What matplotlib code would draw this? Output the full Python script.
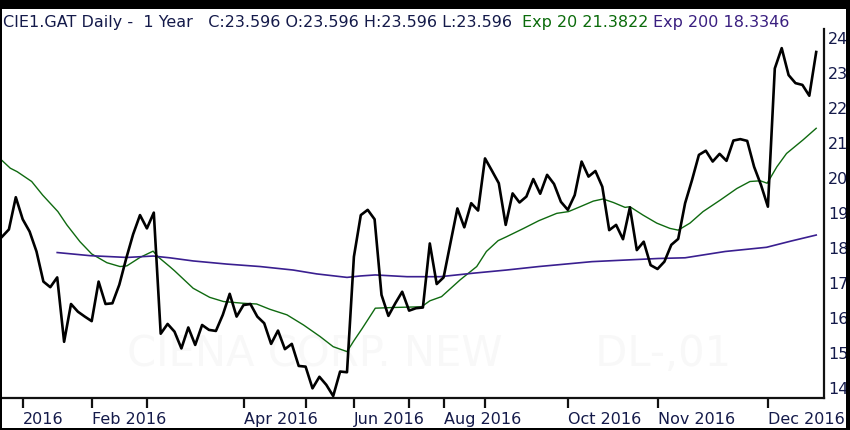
import matplotlib
matplotlib.use('Agg')
import matplotlib.pyplot as plt
from matplotlib.patches import Rectangle

# closing prices, one per bar
close = [18.32, 18.53, 19.45, 18.82, 18.47, 17.90, 17.04, 16.88, 17.16, 15.32,
         16.40, 16.18, 16.04, 15.91, 17.04, 16.40, 16.42, 16.95, 17.70, 18.39,
         18.94, 18.56, 19.01, 15.55, 15.83, 15.61, 15.13, 15.73, 15.23, 15.80,
         15.66, 15.63, 16.09, 16.69, 16.04, 16.37, 16.40, 16.04, 15.85, 15.26,
         15.64, 15.11, 15.26, 14.63, 14.61, 13.99, 14.32, 14.09, 13.77, 14.47,
         14.45, 17.75, 18.94, 19.09, 18.82, 16.66, 16.06, 16.42, 16.75, 16.21,
         16.28, 16.30, 18.13, 16.97, 17.16, 18.15, 19.13, 18.59, 19.28, 19.07,
         20.56, 20.21, 19.85, 18.66, 19.56, 19.30, 19.47, 19.97, 19.55, 20.09,
         19.83, 19.32, 19.09, 19.51, 20.47, 20.04, 20.20, 19.75, 18.51, 18.66,
         18.25, 19.16, 17.94, 18.18, 17.51, 17.40, 17.61, 18.09, 18.26, 19.28,
         19.94, 20.66, 20.78, 20.47, 20.69, 20.49, 21.07, 21.11, 21.06, 20.32,
         19.80, 19.18, 23.13, 23.71, 22.94, 22.71, 22.66, 22.35, 23.60]

# Exp 20 average, read at a few bar positions
exp20_pos = [0, 1.2, 2.2, 4.3, 5.9, 8.1, 9.4, 11.3, 13.0, 15.2, 17.1, 18.1, 20.0,
             21.9, 22.6, 24.3, 25.0, 27.7, 30.1, 32.1, 35.0, 36.9, 38.8, 41.3,
             43.7, 46.1, 48.0, 50.0, 51.0, 52.2, 54.1, 56.7, 60.8, 62.0, 63.7,
             66.4, 68.8, 70.2, 71.9, 73.1, 75.6, 77.8, 80.4, 82.1, 83.8, 85.7,
             87.1, 88.6, 90.3, 91.0, 92.9, 94.9, 96.8, 98.0, 99.7, 101.6, 104.1,
             106.5, 108.4, 109.9, 110.9, 112.3, 113.7, 116.1, 118.0]
exp20_val = [20.50, 20.28, 20.18, 19.90, 19.51, 19.04, 18.66, 18.18, 17.83, 17.58,
             17.47, 17.49, 17.73, 17.91, 17.75, 17.47, 17.35, 16.85, 16.59, 16.47,
             16.42, 16.40, 16.25, 16.09, 15.80, 15.47, 15.18, 15.04, 15.35, 15.70,
             16.28, 16.30, 16.32, 16.49, 16.61, 17.09, 17.47, 17.90, 18.21, 18.32,
             18.56, 18.78, 18.99, 19.04, 19.18, 19.34, 19.40, 19.30, 19.16, 19.18,
             18.94, 18.71, 18.56, 18.51, 18.71, 19.04, 19.37, 19.70, 19.90, 19.92,
             19.85, 20.32, 20.70, 21.09, 21.42]

# Exp 200 average
exp200_pos = [8.0, 12.8, 18.1, 21.9, 24.3, 27.7, 32.6, 37.4, 42.2, 45.6, 50.0,
              51.9, 54.1, 58.7, 63.5, 68.3, 73.1, 77.8, 85.5, 95.1, 99.0, 104.8,
              110.8, 114.4, 118.0]
exp200_val = [17.87, 17.78, 17.73, 17.77, 17.72, 17.63, 17.54, 17.47, 17.37, 17.26,
              17.16, 17.20, 17.23, 17.18, 17.18, 17.28, 17.37, 17.47, 17.61, 17.70,
              17.72, 17.90, 18.02, 18.20, 18.37]

tick_pos = [3, 13, 21, 35, 44, 51, 59, 64, 70, 82, 95, 111]
tick_lbl = ['2016', 'Feb 2016', '', 'Apr 2016', '', 'Jun 2016', '', 'Aug 2016', '',
            'Oct 2016', 'Nov 2016', 'Dec 2016']
y_ticks = [14, 15, 16, 17, 18, 19, 20, 21, 22, 23, 24]

navy = '#141a4a'
green = '#0b6b0b'
purple = '#3a1f80'

W, H = 850, 430
fig = plt.figure(figsize=(W / 100, H / 100), dpi=100)
fig.patch.set_facecolor('white')

# black frame round the picture: top, bottom, left, right
for (x0, y0, w, h) in [(0, 421, 850, 9), (0, 0, 850, 2), (0, 0, 2, 430), (846, 0, 4, 430)]:
    fig.patches.append(Rectangle((x0 / W, y0 / H), w / W, h / H, transform=fig.transFigure,
                                 facecolor='black', edgecolor='none'))

ax = fig.add_axes([2 / W, 32 / H, 822 / W, 369 / H])
ax.set_facecolor('white')

# faint watermark
ax.text(0.52, 0.12, 'CIENA CORP. NEW       DL-,01', transform=ax.transAxes,
        ha='center', va='center', fontsize=30, color='#f8f8f8', zorder=0)

x = list(range(len(close)))
ax.plot(x, close, color='black', lw=1.9, zorder=4)
ax.plot(exp20_pos, exp20_val, color='#0f6a10', lw=1.0, zorder=3)
ax.plot(exp200_pos, exp200_val, color='#3a1f90', lw=1.2, zorder=3)

ax.set_xlim(0, 119.13)
ax.set_ylim(13.714, 24.257)

for s in ['top', 'left']:
    ax.spines[s].set_visible(False)
for s in ['right', 'bottom']:
    ax.spines[s].set_linewidth(1.6)
    ax.spines[s].set_color('#111111')

ax.yaxis.tick_right()
ax.set_yticks(y_ticks)
ax.set_yticklabels([str(v) for v in y_ticks])
ax.tick_params(axis='y', length=0, pad=3, labelsize=11.5, labelcolor=navy)

ax.set_xticks(tick_pos)
ax.set_xticklabels(tick_lbl, ha='left')
ax.tick_params(axis='x', direction='out', length=7, width=1.6, color='#111111',
               pad=3, labelsize=11.5, labelcolor=navy)

# header line
ty = (H - 26.5) / H
fig.text(3 / W, ty, 'CIE1.GAT Daily -  1 Year   C:23.596 O:23.596 H:23.596 L:23.596',
         color=navy, fontsize=11.5, va='baseline')
fig.text(522 / W, ty, 'Exp 20 21.3822', color=green, fontsize=11.5, va='baseline')
fig.text(653 / W, ty, 'Exp 200 18.3346', color=purple, fontsize=11.5, va='baseline')

plt.savefig('out.png', dpi=100, facecolor=fig.get_facecolor())
